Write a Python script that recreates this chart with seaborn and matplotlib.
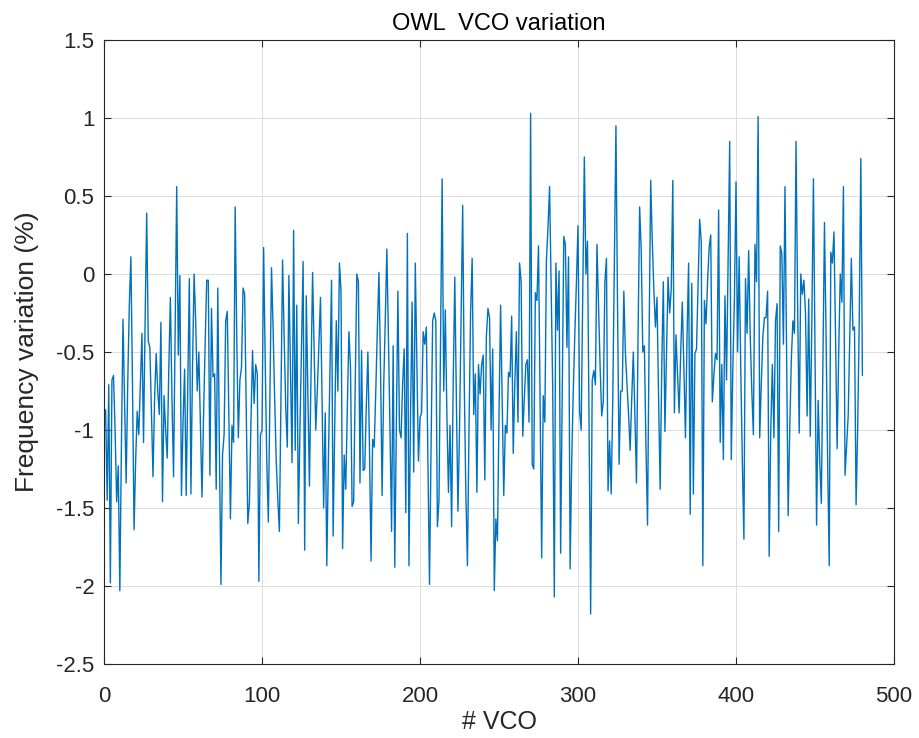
import numpy as np
import pandas as pd
import matplotlib
matplotlib.use("Agg")
import matplotlib.pyplot as plt
import seaborn as sns

title = "OWL  VCO variation"
xlabel = "# VCO"
ylabel = "Frequency variation (%)"
xticks = [0, 100, 200, 300, 400, 500]
yticks = [-2.5, -2, -1.5, -1, -0.5, 0, 0.5, 1, 1.5]
ytick_labels = ["-2.5", "-2", "-1.5", "-1", "-0.5", "0", "0.5", "1", "1.5"]

freq_var_1 = [
    -0.87, -1.45, -0.71, -1.98, -0.68, -0.65, -1.00, -1.46, -1.23, -2.03,
    -1.10, -0.29, -0.80, -1.34, -0.70, -0.20, 0.11, -0.70, -1.64, -1.20,
    -0.88, -1.03, -0.70, -0.38, -1.08, -0.30, 0.39, -0.43, -0.47, -0.90,
    -1.30, -0.80, -0.51, -0.75, -0.90, -0.31, -1.46, -0.78, -1.00, -1.18,
    -0.60, -0.15, -0.80, -1.30, -0.40, 0.56, -0.52, -0.01, -1.42, -0.95,
    -0.61, -1.42, -0.70, -0.03, -1.41, -0.60, 0.00, -0.30, -0.75, -0.50,
    -0.95, -1.43, -0.90, -0.45, -0.04, -0.04, -1.29, -0.22, -0.66, -0.64,
    -1.38, -0.09, -1.10, -1.99, -1.16, -1.03, -0.30, -0.24, -0.90, -1.57,
    -0.97, -1.08, 0.43, -0.40, -1.05, -0.68, -0.60, -0.09, -0.13, -0.85,
    -1.60, -1.47, -0.95, -0.49, -0.83, -0.58, -0.64, -1.97, -1.03, -1.00,
]
freq_var_2 = [
    0.17, -0.55, -1.20, -1.59, -0.80, 0.04, -0.35, -0.80, -1.20, -1.45,
    -1.65, -0.75, 0.09, -0.40, -0.85, -1.11, -0.01, -0.60, -1.21, 0.28,
    -1.13, -0.20, -1.60, -1.00, -0.45, 0.08, -1.77, -0.14, -0.75, -1.36,
    -0.65, 0.01, -0.50, -1.00, -0.75, -0.45, -0.15, -0.80, -1.50, -0.89,
    -1.87, -1.20, -0.60, -0.04, -1.68, -1.00, -0.30, -0.75, 0.07, -0.11,
    -1.76, -1.16, -1.38, -0.85, -0.37, -0.60, -1.49, -1.46, -0.70, 0.00,
    -0.05, -1.34, -0.49, -1.26, -1.25, -0.85, -0.50, -1.10, -1.84, -1.06,
    -1.11, -0.75, -0.35, 0.01, -0.60, -1.42, -0.72, -0.30, 0.16, -0.40,
    -1.00, -1.65, -0.46, -1.88, -1.00, -0.11, -1.00, -1.05, -0.70, -0.48,
    -1.53, 0.26, -1.87, -0.90, -0.18, -1.27, 0.07, -0.55, -1.20, -0.92,
]
freq_var_3 = [
    -0.89, -0.37, -0.45, -0.34, -1.20, -1.99, -1.10, -0.30, -0.25, -0.30,
    -1.62, -1.45, -0.45, 0.61, -0.75, -0.23, -0.90, -1.40, -0.97, -1.62,
    -0.70, -0.02, -0.80, -1.52, -1.00, -0.30, 0.44, -0.70, -1.40, -1.87,
    -1.00, -0.25, 0.10, -0.90, -0.64, -1.40, -0.58, -0.77, -0.58, -0.52,
    -1.32, -0.40, -0.22, -0.28, -1.00, -0.48, -2.03, -1.57, -1.71, -0.90,
    -0.20, -0.80, -1.42, -0.97, -1.02, -0.63, -0.66, -0.27, -1.15, -0.70,
    -0.37, -0.95, 0.07, -0.05, -1.04, -0.80, -0.58, -0.55, -0.95, 1.03,
    -1.22, -1.25, -0.12, -0.17, 0.18, -0.80, -1.82, -0.78, -0.95, 0.09,
    0.30, 0.56, -0.10, -0.74, -2.07, 0.07, -0.36, 0.02, -1.79, -0.80,
    0.24, 0.19, -0.47, 0.11, -1.89, -1.20, -0.75, -0.38, -0.05, 0.31,
]
freq_var_4 = [
    -0.88, -1.00, -0.10, 0.75, 0.00, 0.21, -1.00, -2.18, -0.68, -0.62,
    -0.71, 0.19, -0.20, -0.60, -0.91, -0.82, -0.05, 0.10, -1.39, -1.07,
    -1.41, -0.80, 0.10, 0.95, -0.20, -1.22, -0.75, -0.75, -0.11, -0.51,
    -0.70, -0.90, -1.13, -0.80, -0.50, -0.90, -1.34, -0.40, 0.43, 0.15,
    -0.50, -0.46, -1.10, -1.61, -0.40, 0.60, 0.21, -0.10, -0.34, -0.15,
    -0.80, -1.38, -0.60, -0.05, -1.01, -0.50, -0.02, -0.25, -0.10, 0.60,
    -0.89, -0.39, -0.65, -0.89, -0.50, -0.18, -0.60, -1.05, -0.40, 0.07,
    -1.54, -0.06, -1.41, -0.51, -0.48, -0.05, 0.35, 0.21, -1.87, -0.17,
    -0.32, -0.05, 0.17, 0.25, -0.82, -0.65, -0.51, -0.55, 0.41, -1.08,
    -0.58, -1.19, -0.14, -0.68, 0.10, 0.85, -1.19, -0.60, -0.15, 0.59,
]
freq_var_5 = [
    -0.50, 0.11, -0.60, -1.20, -1.70, -0.03, -0.38, 0.15, -0.40, -0.75,
    -1.03, 0.19, -0.05, 1.01, -1.05, -0.70, -0.40, -0.28, -0.28, -0.11,
    -1.81, -1.00, -0.58, -1.05, -0.30, -0.19, -1.65, 0.18, 0.13, -0.45,
    0.56, -0.50, -1.55, -1.00, -0.55, -0.30, -0.38, 0.85, -0.20, -1.02,
    0.00, -0.13, -0.04, -0.26, -0.91, -0.16, -1.04, -0.30, 0.61, -0.50,
    -1.61, -0.81, -1.20, -1.47, -0.60, 0.33, -0.40, -1.20, -1.87, 0.14,
    0.07, 0.27, -0.40, -1.12, -0.50, 0.00, -0.18, 0.56, -1.29, -1.10,
    -0.91, -0.40, 0.10, -0.36, -0.34, -1.48, -1.00, -0.30, 0.74, -0.65,
]

values = freq_var_1 + freq_var_2 + freq_var_3 + freq_var_4 + freq_var_5
vco_index = np.arange(1, len(values) + 1)
df = pd.DataFrame({"vco": vco_index, "freq": values})

sns.set_theme(style="whitegrid")
plt.rcParams["font.family"] = ["Liberation Sans", "DejaVu Sans"]
plt.rcParams["axes.unicode_minus"] = False

fig = plt.figure(figsize=(9.19, 7.38), dpi=100)
ax = fig.add_axes([0.1132, 0.1003, 0.8596, 0.8455])
sns.lineplot(data=df, x="vco", y="freq", ax=ax, color="#0072BD", linewidth=1.0)

ax.set_xlim(0, 500)
ax.set_ylim(-2.5, 1.5)
ax.set_xticks(xticks)
ax.set_xticklabels([str(t) for t in xticks])
ax.set_yticks(yticks)
ax.set_yticklabels(ytick_labels)

ax.set_facecolor("white")
ax.grid(True, color="#dcdcdc", linewidth=0.7)
for s in ax.spines.values():
    s.set_visible(True)
    s.set_color("#262626")
    s.set_linewidth(0.8)

ax.tick_params(axis="both", which="both", direction="in", length=5, width=0.8,
               color="#262626", labelsize=16, labelcolor="#262626",
               top=True, right=True, bottom=True, left=True, pad=7)
ax.tick_params(axis="x", pad=16)

ax.set_title(title, fontsize=17, color="black", pad=7)
ax.set_xlabel(xlabel, fontsize=18, color="#262626", labelpad=2)
ax.set_ylabel(ylabel, fontsize=19, color="#262626", labelpad=12)

fig.savefig("out.png", dpi=100, facecolor="white")
